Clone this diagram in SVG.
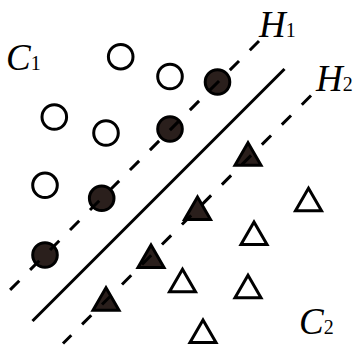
<svg xmlns="http://www.w3.org/2000/svg" xmlns:xlink="http://www.w3.org/1999/xlink" width="360" height="347" viewBox="0 0 360 347">
<style>
.oc{fill:#fff;stroke:#000;stroke-width:3}
.fc{fill:#2a1f1c;stroke:#000;stroke-width:3}
.ot{fill:#fff;stroke:#000;stroke-width:3;stroke-linejoin:miter}
.ft{fill:#2a1f1c;stroke:#000;stroke-width:3;stroke-linejoin:miter}
.dash{stroke:#000;stroke-width:3;stroke-dasharray:13 15.25;fill:none}
.solid{stroke:#000;stroke-width:3;fill:none}
.lbl{font-family:"Liberation Serif","Times New Roman",serif;font-style:italic;font-size:37px;fill:#000}
.sub{font-style:normal;font-size:20px}
</style>
<defs>
<path id="tri" d="M0,-22.5 L13,0 L-13,0 Z"/>
</defs>
<rect width="360" height="347" fill="#fff"/>
<g id="class1-open">
<circle id="c1a" class="oc" cx="120.7" cy="56.7" r="12.3"/>
<circle id="c1b" class="oc" cx="170" cy="76.5" r="12.3"/>
<circle id="c1c" class="oc" cx="54.3" cy="117" r="12.3"/>
<circle id="c1d" class="oc" cx="106" cy="133" r="12.3"/>
<circle id="c1e" class="oc" cx="45" cy="185.3" r="12.3"/>
</g>
<g id="class1-support">
<circle id="s1a" class="fc" cx="217.5" cy="82" r="12.3"/>
<circle id="s1b" class="fc" cx="170" cy="129" r="12.3"/>
<circle id="s1c" class="fc" cx="101.7" cy="198.3" r="12.3"/>
<circle id="s1d" class="fc" cx="45" cy="255" r="12.3"/>
</g>
<g id="class2-support">
<use id="s2a" xlink:href="#tri" href="#tri" class="ft" transform="translate(248,165.2)"/>
<use id="s2b" xlink:href="#tri" href="#tri" class="ft" transform="translate(197.5,219.5)"/>
<use id="s2c" xlink:href="#tri" href="#tri" class="ft" transform="translate(151,267.5)"/>
<use id="s2d" xlink:href="#tri" href="#tri" class="ft" transform="translate(106,310.2)"/>
</g>
<g id="class2-open">
<use id="t2a" xlink:href="#tri" href="#tri" class="ot" transform="translate(308.5,210.8)"/>
<use id="t2b" xlink:href="#tri" href="#tri" class="ot" transform="translate(254,244.5)"/>
<use id="t2c" xlink:href="#tri" href="#tri" class="ot" transform="translate(182.5,291.8)"/>
<use id="t2d" xlink:href="#tri" href="#tri" class="ot" transform="translate(248,297.8)"/>
<use id="t2e" xlink:href="#tri" href="#tri" class="ot" transform="translate(203,342.5)"/>
</g>
<g id="connectors">
<line id="H1-line" class="dash" x1="259" y1="41" x2="10" y2="290"/>
<line id="sep-line" class="solid" x1="284.5" y1="69" x2="32.5" y2="321"/>
<line id="H2-line" class="dash" x1="311" y1="95.5" x2="63" y2="343.5"/>
</g>
<g id="labels">
<text id="lblC1" class="lbl" x="6" y="70">C<tspan class="sub">1</tspan></text>
<text id="lblH1" class="lbl" x="259" y="36.7">H<tspan class="sub">1</tspan></text>
<text id="lblH2" class="lbl" x="316" y="90.7">H<tspan class="sub">2</tspan></text>
<text id="lblC2" class="lbl" x="299" y="334">C<tspan class="sub">2</tspan></text>
</g>
</svg>
